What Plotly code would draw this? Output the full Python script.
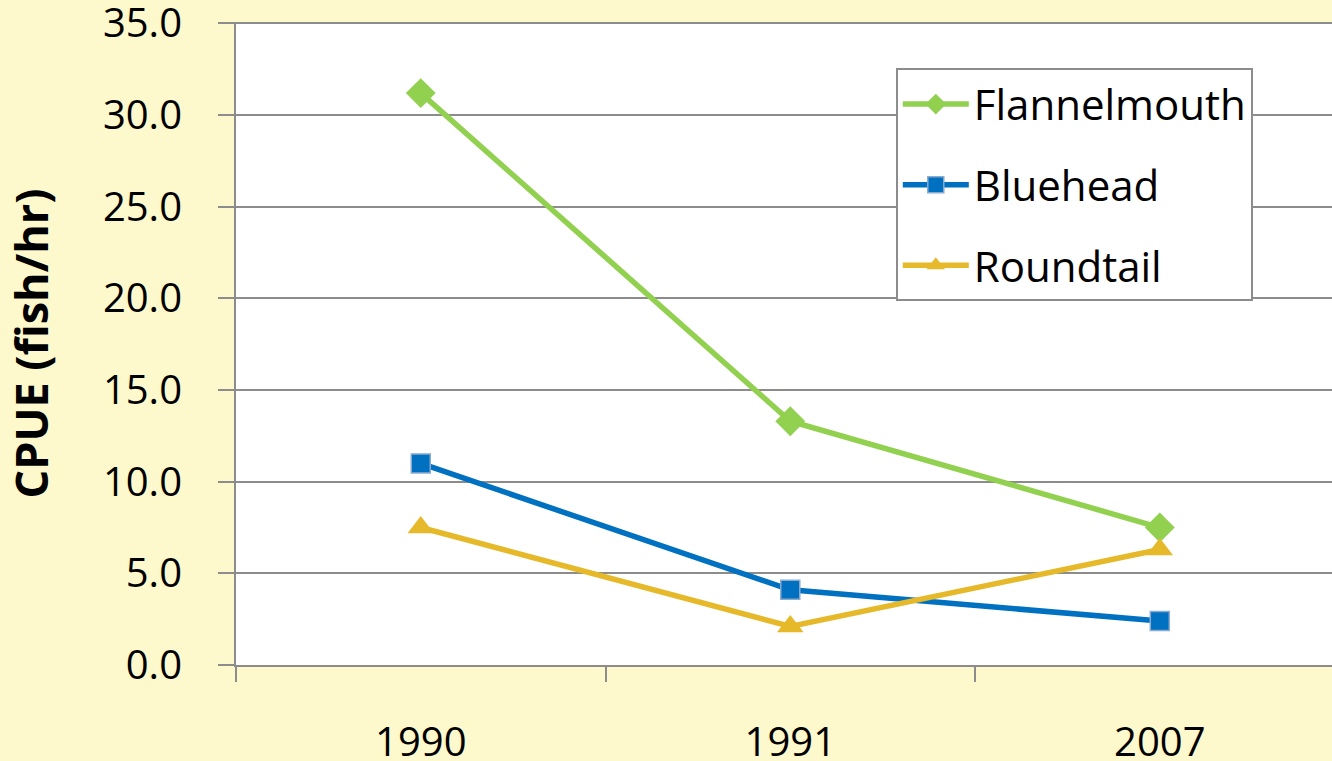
import plotly.graph_objects as go

years = ["1990", "1991", "2007"]
flannelmouth = [31.2, 13.3, 7.5]
bluehead = [11.0, 4.1, 2.4]
roundtail = [7.5, 2.1, 6.3]
y_ticks = [0, 5, 10, 15, 20, 25, 30, 35]

FONT = "Open Sans"
BG = "#FEF9CC"
GRID = "#8C8C8C"

fig = go.Figure()
fig.add_trace(go.Scatter(
    x=years, y=flannelmouth, name="Flannelmouth", mode="lines+markers",
    line=dict(color="#92D050", width=5.5),
    marker=dict(symbol="diamond", size=23, color="#92D050", line=dict(width=0)),
    legendgroup="a",
))
fig.add_trace(go.Scatter(
    x=years, y=bluehead, name="Bluehead", mode="lines+markers",
    line=dict(color="#0070C0", width=5.5),
    marker=dict(symbol="square", size=19, color="#0070C0", line=dict(width=1.5, color="#8AAAD0")),
    legendgroup="b",
))
fig.add_trace(go.Scatter(
    x=years, y=roundtail, name="Roundtail", mode="lines+markers",
    line=dict(color="#E6B92A", width=5.5),
    marker=dict(symbol="triangle-up", size=23, color="#E6B92A", line=dict(width=0)),
    legendgroup="c",
))

fig.update_layout(
    width=1332, height=761,
    paper_bgcolor=BG, plot_bgcolor="white",
    margin=dict(l=236, r=0, t=22, b=96, autoexpand=False),
    font=dict(family=FONT, size=40, color="black"),
    showlegend=True,
    legend=dict(
        x=0.602, y=0.928, xanchor="left", yanchor="top",
        bgcolor="white", bordercolor="#8C8C8C", borderwidth=2,
        font=dict(size=42, family=FONT), tracegroupgap=23,
        traceorder="grouped", itemwidth=66,
    ),
    xaxis=dict(
        type="category", range=[-0.5, 2.466], showgrid=False,
        showline=True, linecolor=GRID, linewidth=2,
        ticks="outside", ticklen=15, tickcolor=GRID, tickwidth=2,
        tickson="boundaries", ticklabelstandoff=41,
        tickfont=dict(size=40, family=FONT),
        automargin=False,
    ),
    yaxis=dict(
        range=[0, 35.08], tickvals=y_ticks, tickformat=".1f",
        showgrid=True, gridcolor=GRID, gridwidth=1.5,
        showline=True, linecolor=GRID, linewidth=2,
        ticks="outside", ticklen=16, tickcolor=GRID, tickwidth=2,
        ticklabelstandoff=28, ticklabeloverflow="allow",
        tickfont=dict(size=40, family=FONT),
        zeroline=False, automargin=False,
        title=dict(text="<b>CPUE (fish/hr)</b>", font=dict(size=45, family=FONT), standoff=40),
    ),
)

fig.write_html(
    "out.html",
    config={"displayModeBar": False},
    post_script="document.body.style.margin='0';document.body.style.overflow='hidden';",
)
